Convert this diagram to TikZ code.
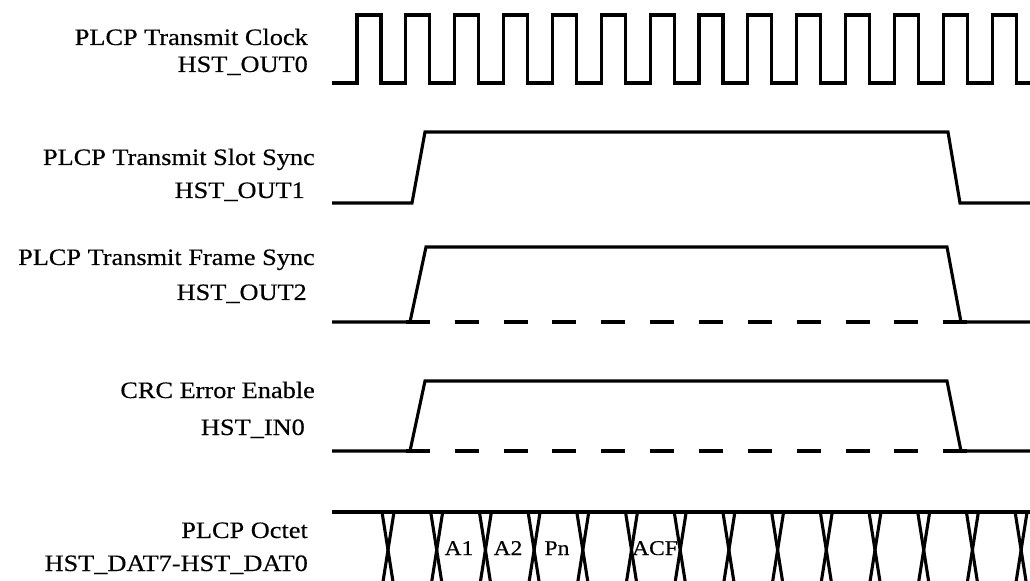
\documentclass[tikz,border=0pt]{standalone}
\usepackage{fontspec}
\setmainfont{Liberation Serif}[FakeStretch=1.12, FakeBold=0.4]
\begin{document}
\begin{tikzpicture}[x=1bp,y=-1bp,
  wave/.style={line width=3.1bp, line join=miter},
  lbl/.style={anchor=base east, inner sep=0pt, font=\fontsize{23.5bp}{28bp}\selectfont},
  buslbl/.style={anchor=base, inner sep=0pt, font=\fontsize{21bp}{25bp}\selectfont}]
\useasboundingbox (0,0) rectangle (1030,581);
\clip (0,0) rectangle (1030,581);
% labels
\node[lbl] (clk)  at (308,45)  {PLCP Transmit Clock};
\node[lbl] (clkb) at (308,72)  {HST\_OUT0};
\node[lbl] (ss)   at (315,165) {PLCP Transmit Slot Sync};
\node[lbl] (ssb)  at (305,198) {HST\_OUT1};
\node[lbl] (fs)   at (315,265) {PLCP Transmit Frame Sync};
\node[lbl] (fsb)  at (307,300) {HST\_OUT2};
\node[lbl] (crc)  at (315,398) {CRC Error Enable};
\node[lbl] (crcb) at (305,435) {HST\_IN0};
\node[lbl] (oct)  at (308,538) {PLCP Octet};
\node[lbl] (octb) at (308,571) {HST\_DAT7-HST\_DAT0};
% clock
\draw[wave] (332,83) \foreach \k in {0,...,13} { -- ({357+48.85*\k},83) -- ({357+48.85*\k},15) -- ({381+48.85*\k},15) -- ({381+48.85*\k},83) } -- (1030,83);
% slot sync
\draw[wave] (332,203) -- (412,203) -- (425,132) -- (948,132) -- (960,203) -- (1030,203);
% frame sync
\draw[wave] (332,322) -- (410,322) -- (426,247) -- (947,247) -- (961,322) -- (1030,322);
\foreach \k in {1,...,12} \draw[wave] ({357+48.85*\k},322) -- ({381+48.85*\k},322);
% CRC error enable
\draw[wave] (332,451) -- (410,451) -- (425,381) -- (947,381) -- (961,451) -- (1030,451);
\foreach \k in {1,...,12} \draw[wave] ({357+48.85*\k},451) -- ({381+48.85*\k},451);
% octet bus
\draw[wave] (332,512) -- (1030,512);
\foreach \k in {0,...,13} {
  \draw[wave] ({382+48.7*\k},512) -- ({394+48.7*\k},588);
  \draw[wave] ({394+48.7*\k},512) -- ({382+48.7*\k},588);
}
\node[buslbl] (a1)  at (459,555) {A1};
\node[buslbl] (a2)  at (508,555) {A2};
\node[buslbl] (pn)  at (557,555) {Pn};
\node[buslbl] (acf) at (655,555) {ACF};
\end{tikzpicture}
\end{document}
